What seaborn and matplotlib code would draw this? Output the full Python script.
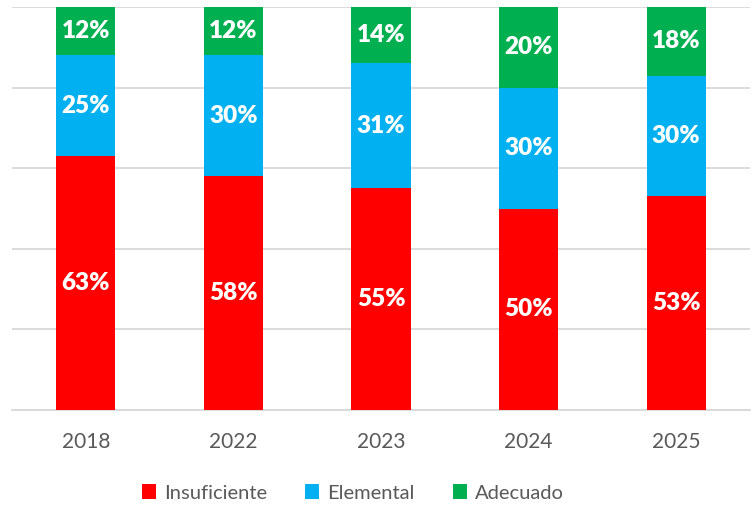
import matplotlib.pyplot as plt
import pandas as pd
import seaborn as sns

# data
years = ['2018', '2022', '2023', '2024', '2025']
insuficiente = [63, 58, 55, 50, 53]
elemental = [25, 30, 31, 30, 30]
adecuado = [12, 12, 14, 20, 18]

series = ['Insuficiente', 'Elemental', 'Adecuado']
colors = ['#FF0000', '#00B0F0', '#00B050']

sns.set_theme(style='white')
plt.rcParams['font.family'] = ['Lato', 'DejaVu Sans']

df = pd.DataFrame({'year': years, 'Insuficiente': insuficiente,
                   'Elemental': elemental, 'Adecuado': adecuado})

fig = plt.figure(figsize=(7.56, 5.08), dpi=100)
ax = fig.add_axes([12 / 756, 1 - 410 / 508, 738 / 756, 403 / 508])

bottom = pd.Series([0] * len(years), dtype=float)
for name, col in zip(series, colors):
    vals = df[name] / 100
    sns.barplot(x=df['year'], y=vals, color=col, width=0.4, bottom=bottom.values,
                ax=ax, label=name, saturation=1, linewidth=0, zorder=3)
    cont = ax.containers[-1]
    ax.bar_label(cont, labels=[f'{v}%' for v in df[name]], label_type='center',
                 color='white', fontsize=17.5, fontweight='heavy')
    bottom = bottom + vals

ax.set_ylim(0, 1)
ax.set_xlim(-0.5, len(years) - 0.5)
ax.set_yticks([0, 0.2, 0.4, 0.6, 0.8, 1.0])
ax.yaxis.grid(True, color='#D9D9D9', linewidth=1.3, zorder=0)
ax.set_yticklabels([])
ax.tick_params(axis='y', length=0)
ax.tick_params(axis='x', length=0, pad=16, labelsize=15, labelcolor='#595959')
ax.set_xlabel('')
ax.set_ylabel('')
for s in ['top', 'left', 'right']:
    ax.spines[s].set_visible(False)
ax.spines['bottom'].set_color('#D9D9D9')
ax.spines['bottom'].set_linewidth(1.3)
ax.spines['bottom'].set_zorder(1)

if ax.legend_:
    ax.legend_.remove()
handles, labels = ax.get_legend_handles_labels()
fig.legend(handles, labels, loc='center', bbox_to_anchor=(353 / 756, 1 - 493 / 508),
           ncol=3, frameon=False, fontsize=14.5, labelcolor='#595959',
           handlelength=0.7, handleheight=0.7, handletextpad=0.4, columnspacing=1.9)

fig.savefig('out.png', dpi=100)
